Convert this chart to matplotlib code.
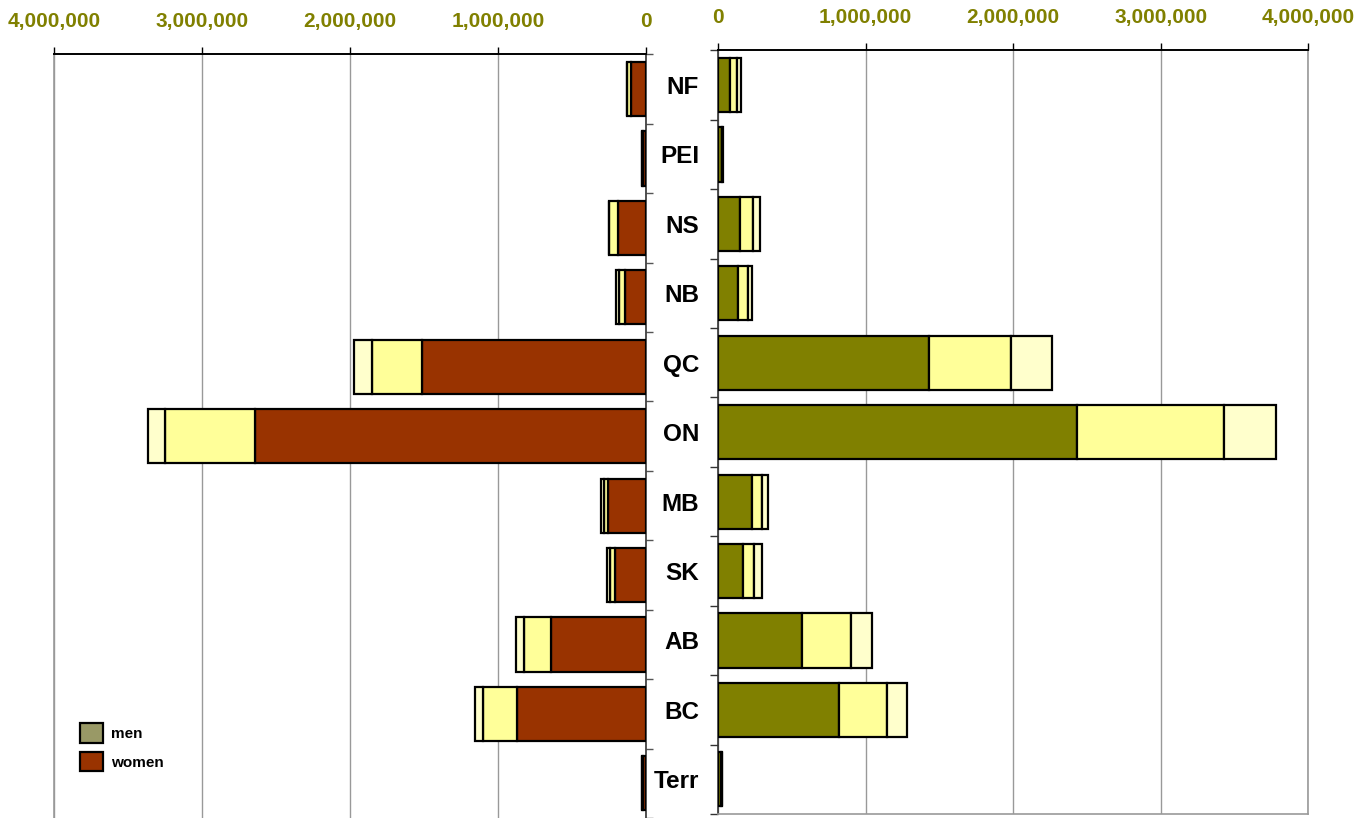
import matplotlib
matplotlib.use("Agg")
import matplotlib.pyplot as plt
from matplotlib.patches import Patch
from matplotlib.ticker import FuncFormatter, FixedLocator
import numpy as np

plt.rcParams['font.family'] = ['Liberation Sans', 'DejaVu Sans']

provinces = ["NF", "PEI", "NS", "NB", "QC", "ON", "MB", "SK", "AB", "BC", "Terr"]

# women: three stacked segments (dark, yellow, light yellow)
women_seg1 = [101000, 22000, 186000, 142000, 1516000, 2640000, 259000, 210000, 643000, 875000, 20000]
women_seg2 = [27000, 5000, 61000, 38000, 338000, 609000, 23000, 34000, 181000, 226000, 4000]
women_seg3 = [3000, 3000, 3000, 20000, 122000, 115000, 20000, 22000, 56000, 52000, 2000]

# men: three stacked segments
men_seg1 = [81000, 25000, 149000, 134000, 1433000, 2432000, 233000, 167000, 572000, 820000, 22000]
men_seg2 = [47000, 4000, 90000, 72000, 551000, 994000, 64000, 77000, 328000, 323000, 4000]
men_seg3 = [25000, 3000, 45000, 27000, 278000, 355000, 41000, 52000, 145000, 136000, 2000]

x_ticks = [0, 1000000, 2000000, 3000000, 4000000]
legend_labels = ["men", "women"]

WOMEN_DARK = "#993300"
MEN_DARK = "#808000"
MEN_LEGEND = "#999966"
YELLOW = "#FFFF99"
LIGHT = "#FFFFCC"
TICKCOL = "#808000"

W, H = 1366, 818
fig = plt.figure(figsize=(W / 100, H / 100), dpi=100)

axL = fig.add_axes([54.3 / W, 0.0, (646 - 54.3) / W, (818 - 54.3) / H])
axR = fig.add_axes([718 / W, (818 - 814) / H, (1308.3 - 718) / W, (814 - 50.3) / H])

y = np.arange(len(provinces))
bh = 0.78
kw = dict(height=bh, edgecolor="black", linewidth=1.6, zorder=3)

w1 = np.array(women_seg1); w2 = np.array(women_seg2); w3 = np.array(women_seg3)
axL.barh(y, w1, color=WOMEN_DARK, **kw)
axL.barh(y, w2, left=w1, color=YELLOW, **kw)
axL.barh(y, w3, left=w1 + w2, color=LIGHT, **kw)

m1 = np.array(men_seg1); m2 = np.array(men_seg2); m3 = np.array(men_seg3)
axR.barh(y, m1, color=MEN_DARK, **kw)
axR.barh(y, m2, left=m1, color=YELLOW, **kw)
axR.barh(y, m3, left=m1 + m2, color=LIGHT, **kw)

fmt = FuncFormatter(lambda v, p: "{:,}".format(int(v)))
bounds = np.arange(-0.5, len(provinces), 1.0)

for ax, inverted in ((axL, True), (axR, False)):
    if inverted:
        ax.set_xlim(4000000, 0)
    else:
        ax.set_xlim(0, 4000000)
    ax.set_ylim(len(provinces) - 0.5, -0.5)
    ax.xaxis.set_major_locator(FixedLocator(x_ticks))
    ax.xaxis.set_major_formatter(fmt)
    ax.xaxis.tick_top()
    ax.tick_params(axis="x", which="major", direction="out", length=5, width=1,
                   color="black", labelsize=15, labelcolor=TICKCOL, pad=12)
    for lab in ax.get_xticklabels():
        lab.set_fontweight("bold")
    ax.grid(axis="x", color="#999999", linewidth=1, zorder=0)
    ax.set_axisbelow(True)
    ax.yaxis.set_major_locator(FixedLocator(bounds))
    ax.set_yticklabels([])
    for s in ax.spines.values():
        s.set_color("#999999")
        s.set_linewidth(1.2)
    ax.spines["top"].set_color("black")
    ax.spines["top"].set_linewidth(1.4)

# left panel: ticks on right side pointing right
axL.yaxis.tick_right()
axL.tick_params(axis="y", direction="out", length=5, width=1, color="#555555")
axL.spines["right"].set_color("#333333")
axL.spines["bottom"].set_visible(False)

# right panel: ticks on left side pointing left, category labels
axR.tick_params(axis="y", which="major", direction="out", length=6, width=1, color="#333333")
axR.spines["left"].set_color("#333333")
axR.yaxis.set_minor_locator(FixedLocator(y))
axR.set_yticklabels(provinces, minor=True)
axR.tick_params(axis="y", which="minor", length=0, pad=13.5, labelsize=17.5)
for lab in axR.get_yticklabels(minor=True):
    lab.set_fontweight("bold")
    lab.set_horizontalalignment("right")

handles = [Patch(facecolor=MEN_LEGEND, edgecolor="black", linewidth=1.6),
           Patch(facecolor=WOMEN_DARK, edgecolor="black", linewidth=1.6)]
leg = fig.legend(handles, legend_labels, loc="upper left",
                 bbox_to_anchor=(80 / W, 1 - 723 / H), frameon=False,
                 prop={"size": 11, "weight": "bold"}, handlelength=1.5,
                 handleheight=1.6, labelspacing=0.6, handletextpad=0.5,
                 borderpad=0, borderaxespad=0)

fig.savefig("out.png", dpi=100)
